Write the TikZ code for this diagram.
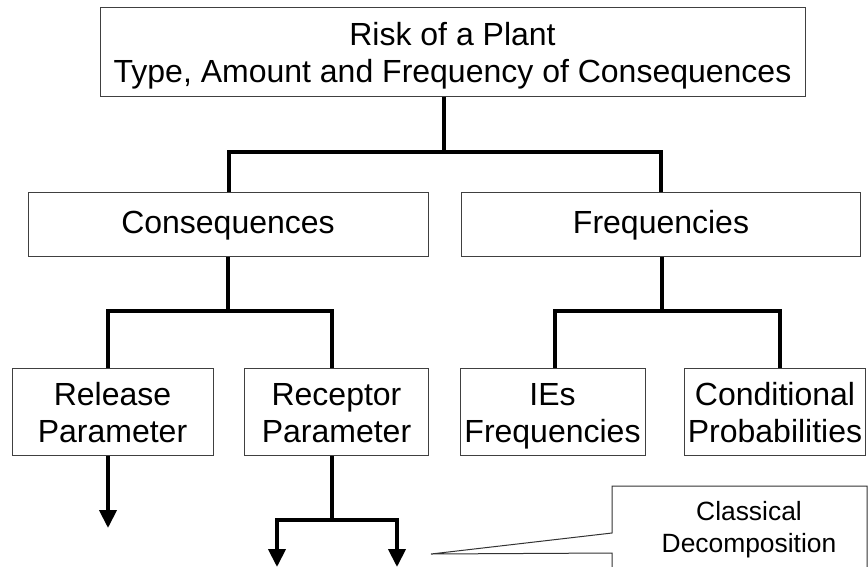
\documentclass[tikz,border=0pt]{standalone}
\usepackage{fontspec}
\setmainfont{Liberation Sans}
\usetikzlibrary{arrows.meta}
\begin{document}
\begin{tikzpicture}[x=1pt,y=-1pt,
  box/.style={draw=black!75, line width=1.2pt, fill=white, inner sep=0pt, anchor=north west},
  lbl/.style={anchor=base, inner sep=0pt, font=\fontsize{32}{37.5}\selectfont},
  small/.style={anchor=base, inner sep=0pt, font=\fontsize{26.4}{32}\selectfont},
  conn/.style={line width=4pt},
  arr/.style={conn, -{Triangle[width=17pt,length=18pt]}}]
\useasboundingbox (0,0) rectangle (868,566);

% boxes
\node[box, minimum width=705pt, minimum height=89pt] (top) at (100,7) {};
\node[box, minimum width=400pt, minimum height=64pt] (cons) at (28,192) {};
\node[box, minimum width=399pt, minimum height=64pt] (freq) at (461,192) {};
\node[box, minimum width=201pt, minimum height=87pt] (rel) at (12,368) {};
\node[box, minimum width=184pt, minimum height=87pt] (rec) at (244,368) {};
\node[box, minimum width=185pt, minimum height=87pt] (ies) at (460,368) {};
\node[box, minimum width=181pt, minimum height=87pt] (cond) at (684,368) {};

% labels
\node[lbl] (topA) at (452.5,45) {Risk of a Plant};
\node[lbl] (topB) at (452.5,82) {Type, Amount and Frequency of Consequences};
\node[lbl] (consT) at (228,233) {Consequences};
\node[lbl] (freqT) at (661,233) {Frequencies};
\node[lbl] (relA) at (112.5,405) {Release};
\node[lbl] (relB) at (112.5,442.5) {Parameter};
\node[lbl] (recA) at (336.5,405) {Receptor};
\node[lbl] (recB) at (336.5,442.5) {Parameter};
\node[lbl] (iesA) at (552.5,405) {IEs};
\node[lbl] (iesB) at (552.5,442.5) {Frequencies};
\node[lbl] (condA) at (775,405) {Conditional};
\node[lbl] (condB) at (775,442.5) {Probabilities};

% first level
\coordinate (tj) at (444,152);
\draw[conn] (top.south -| tj) -- (tj);
\draw[conn] (cons.north) |- (tj) -| (freq.north);

% consequences branch
\coordinate (cj) at (228,311);
\coordinate (c1) at (108,311);
\coordinate (c2) at (332,311);
\draw[conn] (cons.south -| cj) -- (cj);
\draw[conn] (rel.north -| c1) -- (c1) -- (c2) -- (rec.north -| c2);

% frequencies branch
\coordinate (fj) at (662,311);
\coordinate (f1) at (555,311);
\coordinate (f2) at (780,311);
\draw[conn] (freq.south -| fj) -- (fj);
\draw[conn] (ies.north -| f1) -- (f1) -- (f2) -- (cond.north -| f2);

% release parameter arrow
\coordinate (relEnd) at (108,528);
\draw[arr] (rel.south -| relEnd) -- (relEnd);

% receptor parameter split
\coordinate (rj) at (332,520);
\coordinate (r1e) at (277,567);
\coordinate (r2e) at (397,567);
\draw[conn] (rec.south -| rj) -- (rj);
\draw[arr] (rj) -| (r1e);
\draw[arr] (rj) -| (r2e);

% callout
\draw[line width=1pt, draw=black!80, fill=white]
  (867,575) -- (867,486) -- (612,486) -- (612,533) -- (431,554) -- (612,553) -- (612,575);
\node[small] (clA) at (749,520) {Classical};
\node[small] (clB) at (749,552) {Decomposition};
\end{tikzpicture}
\end{document}
